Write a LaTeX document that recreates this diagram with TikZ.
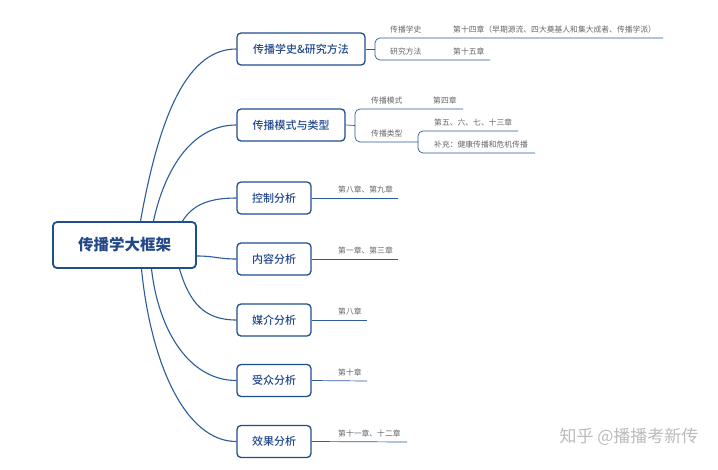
\documentclass[tikz,border=0pt]{standalone}
\usepackage{fontspec}
\newfontfamily\cjk{Noto Sans CJK SC}[BoldFont={Noto Sans CJK SC Medium}]
\newfontfamily\cjkroot{Noto Sans CJK SC}
\usetikzlibrary{positioning}

\definecolor{boxblue}{HTML}{1F4E8C}
\definecolor{txtblue}{HTML}{22488A}
\definecolor{lineblue}{HTML}{2D5C9A}
\definecolor{leafgray}{HTML}{666666}
\definecolor{markgray}{HTML}{BBBBBB}

\begin{document}
\begin{tikzpicture}[
    x=1pt, y=-1pt,
    topic/.style={draw=boxblue, line width=1.3pt, rounded corners=4pt, fill=white,
      minimum width=74pt, minimum height=32pt, inner sep=2pt, text=txtblue,
      font=\cjk\fontsize{11}{13}\selectfont\bfseries},
    rootbox/.style={topic, line width=1.8pt, minimum width=143pt, minimum height=46pt,
      font=\cjkroot\fontsize{15.5}{18}\selectfont\bfseries},
    leaf/.style={anchor=base west, inner sep=0pt, text=leafgray,
      font=\cjk\fontsize{7.8}{9}\selectfont},
    branch/.style={draw=lineblue, line width=1.1pt},
    twig/.style={draw=lineblue, line width=0.7pt, rounded corners=5pt}
  ]

    \useasboundingbox[fill=white] (0,0) rectangle (718,469);

    %=== 中心 ===%
    \node[rootbox] (root) at (124.5,245) {传播学大框架};

    %=== 一级主题 ===%
    \node[topic, minimum width=128pt] (hist)  at (301,49)  {传播学史\&研究方法};
    \node[topic, minimum width=108pt] (model) at (291,125) {传播模式与类型};
    \node[topic] (ctrl)  at (274,198) {控制分析};
    \node[topic] (cont)  at (274,259) {内容分析};
    \node[topic] (media) at (274,320) {媒介分析};
    \node[topic] (aud)   at (274,380.5) {受众分析};
    \node[topic] (eff)   at (274,441.5) {效果分析};

    %=== 中心→一级主题 ===%
    \draw[branch] ([xshift=16pt]root.north) .. controls +(20,-112) and +(-47,0) .. (hist.west);
    \draw[branch] ([xshift=29pt]root.north) .. controls +(10,-47) and +(-47,0) .. (model.west);
    \draw[branch] ([xshift=58pt]root.north) .. controls +(10,-16) and +(-28,0) .. (ctrl.west);
    \draw[branch] ([yshift=-11pt]root.east) .. controls +(18,0) and +(-18,0) .. (cont.west);
    \draw[branch] ([xshift=55pt]root.south) .. controls +(10,34) and +(-32,0) .. (media.west);
    \draw[branch] ([xshift=27pt]root.south) .. controls +(7,62) and +(-47,0) .. (aud.west);
    \draw[branch] ([xshift=17pt]root.south) .. controls +(9,92) and +(-52,0) .. (eff.west);

    %=== 传播学史&研究方法 ===%
    \coordinate (hb)  at (375,49);
    \coordinate (h1e) at (663,38);
    \coordinate (h2e) at (490,60);
    \draw[twig] (hist.east) -- (hb);
    \draw[twig] (hb) |- (h1e);
    \draw[twig] (hb) |- (h2e);
    \node[leaf] (hs)   at (390,32) {传播学史};
    \node[leaf] (hs14) at (453,32) {第十四章（早期源流、四大奠基人和集大成者、传播学派）};
    \node[leaf] (rm)   at (390,54) {研究方法};
    \node[leaf] (rm15) at (453,54) {第十五章};

    %=== 传播模式与类型 ===%
    \coordinate (mb)  at (355,125.5);
    \coordinate (m1e) at (463,109);
    \coordinate (tb)  at (418,142);
    \coordinate (t1e) at (518,131);
    \coordinate (t2e) at (535,153);
    \draw[twig] (model.east) -- (mb);
    \draw[twig] (mb) |- (m1e);
    \draw[twig] (mb) |- (tb);
    \draw[twig] (tb) |- (t1e);
    \draw[twig] (tb) |- (t2e);
    \node[leaf] (ms)  at (371,103) {传播模式};
    \node[leaf] (ms4) at (433,103) {第四章};
    \node[leaf] (mt)  at (371,136) {传播类型};
    \node[leaf] (mt1) at (434,125) {第五、六、七、十三章};
    \node[leaf] (mt2) at (434,147.5) {补充：健康传播和危机传播};

    %=== 其余主题 ===%
    \coordinate (c1e) at (398,198);
    \coordinate (c2e) at (398,259);
    \coordinate (c3e) at (367,320);
    \coordinate (c4e) at (367,381);
    \coordinate (c5e) at (407,442);
    \draw[twig] (ctrl.east)  -- (c1e);
    \draw[twig] (cont.east)  -- (c2e);
    \draw[twig] (media.east) -- (c3e);
    \draw[twig] (aud.east)   -- (c4e);
    \draw[twig] (eff.east)   -- (c5e);
    \node[leaf] (ctrlch)  at (338,192.5) {第八章、第九章};
    \node[leaf] (contch)  at (338,253.5) {第一章、第三章};
    \node[leaf] (mediach) at (338,314.5) {第八章};
    \node[leaf] (audch)   at (338,375.5) {第十章};
    \node[leaf] (effch)   at (338,436.5) {第十一章、十二章};

    % 水印
    \node[anchor=east, text=markgray, font=\cjk\fontsize{17}{20}\selectfont] (mark)
      at (702,437) {知乎 @播播考新传};

  \end{tikzpicture}
\end{document}
